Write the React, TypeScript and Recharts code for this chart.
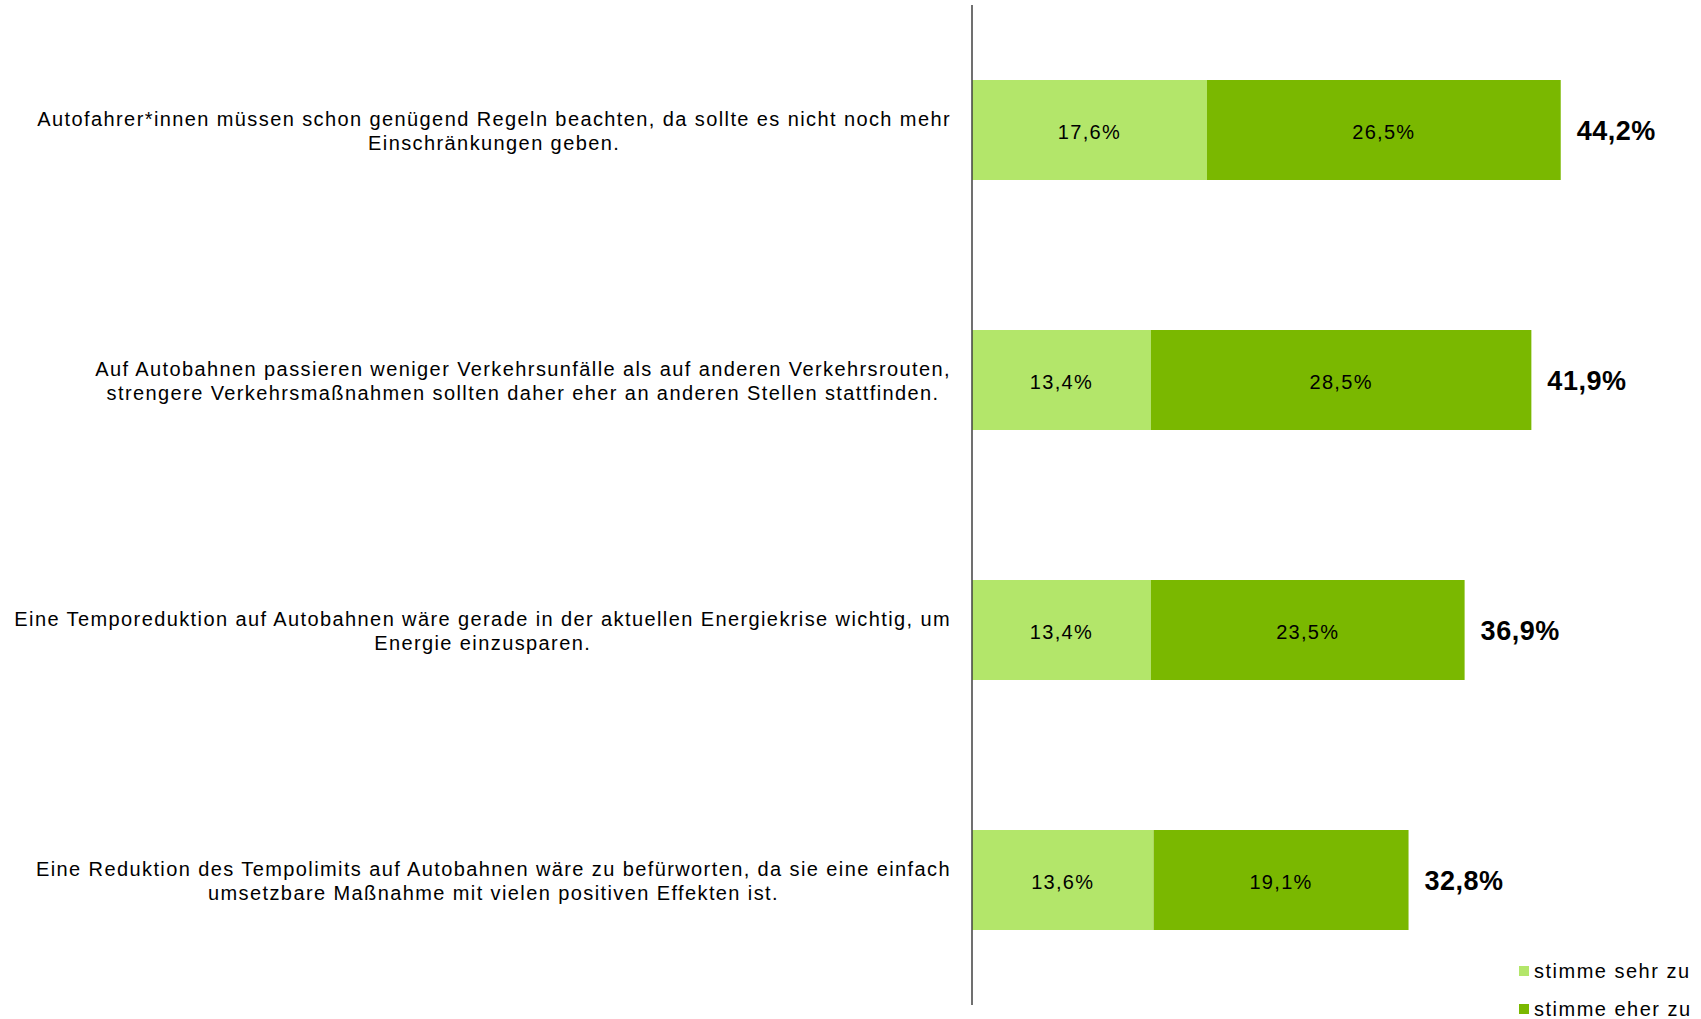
import { Bar, BarChart, LabelList, XAxis, YAxis } from "recharts";

const statements = [
  ["Autofahrer*innen müssen schon genügend Regeln beachten, da sollte es nicht noch mehr", "Einschränkungen geben."],
  ["Auf Autobahnen passieren weniger Verkehrsunfälle als auf anderen Verkehrsrouten,", "strengere Verkehrsmaßnahmen sollten daher eher an anderen Stellen stattfinden."],
  ["Eine Temporeduktion auf Autobahnen wäre gerade in der aktuellen Energiekrise wichtig, um", "Energie einzusparen."],
  ["Eine Reduktion des Tempolimits auf Autobahnen wäre zu befürworten, da sie eine einfach", "umsetzbare Maßnahme mit vielen positiven Effekten ist."]
];
const sehr = [17.6, 13.4, 13.4, 13.6];
const eher = [26.5, 28.5, 23.5, 19.1];
const totals = [44.2, 41.9, 36.9, 32.8];
const legendLabels = ["stimme sehr zu", "stimme eher zu"];

const LIGHT = "#b3e66a";
const DARK = "#7ab800";
const FONT = "'Liberation Sans', Arial, sans-serif";

const data = statements.map((lines, i) => ({
  key: String(i),
  lines,
  sehr: sehr[i],
  eher: eher[i],
  total: totals[i]
}));

const pct = (v: number) => `${v.toFixed(1).replace(".", ",")}%`;

function StatementTick({ x, y, payload }: any) {
  const lines = data[Number(payload.value)].lines;
  const right = x - 13;
  return (
    <foreignObject x={right - 960} y={y - 39} width={960} height={80}>
      <div
        style={{
          display: "flex",
          justifyContent: "flex-end",
          alignItems: "center",
          height: "100%",
          fontFamily: FONT,
          fontSize: 20,
          letterSpacing: 1.4,
          lineHeight: "24px",
          color: "#000"
        }}
      >
        <div style={{ textAlign: "center", whiteSpace: "nowrap" }}>
          {lines.map((l, i) => (
            <div key={i}>{l}</div>
          ))}
        </div>
      </div>
    </foreignObject>
  );
}

function InnerLabel({ x, y, width, height, value }: any) {
  return (
    <text
      x={x + width / 2}
      y={y + height / 2 + 2}
      textAnchor="middle"
      dominantBaseline="central"
      fontFamily={FONT}
      fontSize={20}
      letterSpacing={1.3}
      fill="#000"
    >
      {pct(Number(value))}
    </text>
  );
}

function TotalLabel({ x, y, width, height, index }: any) {
  return (
    <text
      x={x + width + 16}
      y={y + height / 2 + 1}
      dominantBaseline="central"
      fontFamily={FONT}
      fontSize={27}
      fontWeight="bold"
      letterSpacing={0.5}
      fill="#000"
    >
      {pct(totals[index])}
    </text>
  );
}

function LegendBox() {
  const colors = [LIGHT, DARK];
  return (
    <div
      style={{
        position: "absolute",
        left: 1519,
        top: 952,
        fontFamily: FONT,
        fontSize: 20,
        letterSpacing: 1.5,
        color: "#000"
      }}
    >
      {legendLabels.map((label, i) => (
        <div key={label} style={{ display: "flex", alignItems: "center", height: 38 }}>
          <span style={{ width: 10, height: 10, background: colors[i], marginRight: 5 }} />
          {label}
        </div>
      ))}
    </div>
  );
}

export default function App() {
  return (
    <div style={{ position: "absolute", left: 0, top: 0, width: 1701, height: 1019, background: "#fff" }}>
      <BarChart
        width={1701}
        height={1019}
        data={data}
        layout="vertical"
        barCategoryGap={75}
        margin={{ top: 5, right: 61.5, bottom: 14, left: 0 }}
      >
        <XAxis type="number" domain={[0, 50]} hide />
        <YAxis
          type="category"
          dataKey="key"
          width={972}
          tickLine={false}
          axisLine={{ stroke: "#404040", strokeWidth: 1.5 }}
          tick={<StatementTick />}
          interval={0}
        />
        <Bar dataKey="sehr" name="stimme sehr zu" stackId="a" fill={LIGHT} isAnimationActive={false}>
          <LabelList dataKey="sehr" content={<InnerLabel />} />
        </Bar>
        <Bar dataKey="eher" name="stimme eher zu" stackId="a" fill={DARK} isAnimationActive={false}>
          <LabelList dataKey="eher" content={<InnerLabel />} />
          <LabelList dataKey="total" content={<TotalLabel />} />
        </Bar>
      </BarChart>
      <LegendBox />
    </div>
  );
}
